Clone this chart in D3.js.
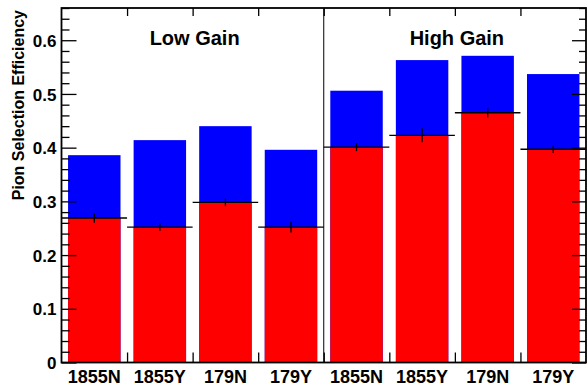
<!DOCTYPE html>
<html>
<head>
<meta charset="utf-8">
<script src="https://cdn.jsdelivr.net/npm/d3@7"></script>
<style>
  html, body { margin: 0; padding: 0; background: #fff; }
  svg { display: block; }
  text { font-family: "Liberation Sans", Arial, Helvetica, sans-serif; font-weight: bold; fill: #000; }
</style>
</head>
<body>
<svg id="chart" width="587" height="387"></svg>
<script>
// Sample / selection per bin
const categories = ["1855N", "1855Y", "179N", "179Y", "1855N", "1855Y", "179N", "179Y"];
// Total efficiency (blue)
const totalEff = [0.386, 0.414, 0.440, 0.396, 0.506, 0.563, 0.571, 0.537];
// Pion selection efficiency (red) and its uncertainty
const pionEff = [0.269, 0.252, 0.298, 0.252, 0.401, 0.423, 0.465, 0.397];
const pionErr = [0.009, 0.007, 0.007, 0.010, 0.0075, 0.013, 0.009, 0.007];
// Gain groups, four bins each
const groupTitles = ["Low Gain", "High Gain"];
const yMajorTicks = [0, 0.1, 0.2, 0.3, 0.4, 0.5, 0.6];
const yTitle = "Pion Selection Efficiency";

const frame = { left: 61.5, right: 586, top: 8, bottom: 362.5 };
const svg = d3.select("#chart");

const idx = d3.range(categories.length);
const x = d3.scaleBand().domain(idx).range([frame.left, frame.right]).paddingInner(0).paddingOuter(0);
const y = d3.scaleLinear().domain([0, 0.66]).range([frame.bottom, frame.top]);
const bw = x.bandwidth();
const barOffset = 0.1, barWidth = 0.8;

// Bars: total (blue) under pion (red)
svg.append("g").selectAll("rect").data(idx).join("rect")
  .attr("x", i => x(i) + barOffset * bw)
  .attr("width", barWidth * bw)
  .attr("y", i => y(totalEff[i]))
  .attr("height", i => y(0) - y(totalEff[i]))
  .attr("fill", "#0000ff");

svg.append("g").selectAll("rect").data(idx).join("rect")
  .attr("x", i => x(i) + barOffset * bw)
  .attr("width", barWidth * bw)
  .attr("y", i => y(pionEff[i]))
  .attr("height", i => y(0) - y(pionEff[i]))
  .attr("fill", "#ff0000");

// Pion histogram level lines and error bars
const errG = svg.append("g").attr("stroke", "#000").attr("stroke-width", 1.3);
errG.selectAll("line.level").data(idx).join("line").attr("class", "level")
  .attr("x1", i => x(i)).attr("x2", i => x(i) + bw)
  .attr("y1", i => y(pionEff[i])).attr("y2", i => y(pionEff[i]));
errG.selectAll("line.err").data(idx).join("line").attr("class", "err")
  .attr("x1", i => x(i) + bw / 2).attr("x2", i => x(i) + bw / 2)
  .attr("y1", i => y(pionEff[i] + pionErr[i])).attr("y2", i => y(pionEff[i] - pionErr[i]));

// Y axes: major and minor ticks pointing inward on both sides
const yMinor = d3.range(0, 0.661, 0.02).filter(v => Math.abs(v * 10 - Math.round(v * 10)) > 1e-6);

function styleAxis(g) {
  g.select(".domain").remove();
  g.selectAll(".tick line").attr("stroke", "#000").attr("stroke-width", 1.3);
}

svg.append("g").attr("transform", `translate(${frame.left},0)`)
  .call(d3.axisLeft(y).tickValues(yMajorTicks).tickSize(-15).tickPadding(5)
    .tickFormat(d => d === 0 ? "0" : d3.format(".1f")(d)))
  .call(styleAxis)
  .call(g => g.selectAll(".tick text").attr("font-size", 17).attr("dy", "0.36em"));

svg.append("g").attr("transform", `translate(${frame.left},0)`)
  .call(d3.axisLeft(y).tickValues(yMinor).tickSize(-8).tickFormat(""))
  .call(styleAxis);

svg.append("g").attr("transform", `translate(${frame.right},0)`)
  .call(d3.axisRight(y).tickValues(yMajorTicks).tickSize(-14).tickFormat(""))
  .call(styleAxis);

svg.append("g").attr("transform", `translate(${frame.right},0)`)
  .call(d3.axisRight(y).tickValues(yMinor).tickSize(-7).tickFormat(""))
  .call(styleAxis);

// X axes: ticks at bin edges, labels at bin centers
const edges = d3.range(1, categories.length).map(i => x(i));
const xEdge = d3.scaleLinear().domain([frame.left, frame.right]).range([frame.left, frame.right]);

svg.append("g").attr("transform", `translate(0,${frame.bottom})`)
  .call(d3.axisBottom(xEdge).tickValues(edges).tickSize(-10).tickFormat(""))
  .call(styleAxis);

svg.append("g").attr("transform", `translate(0,${frame.top})`)
  .call(d3.axisTop(xEdge).tickValues(edges).tickSize(-8).tickFormat(""))
  .call(styleAxis);

svg.append("g").selectAll("text").data(idx).join("text")
  .attr("x", i => x(i) + bw / 2)
  .attr("y", 383)
  .attr("text-anchor", "middle")
  .attr("font-size", 18)
  .text(i => categories[i]);

// Frame and group divider
svg.append("rect")
  .attr("x", frame.left).attr("y", frame.top)
  .attr("width", frame.right - frame.left).attr("height", frame.bottom - frame.top)
  .attr("fill", "none").attr("stroke", "#000").attr("stroke-width", 1.8);

svg.append("line")
  .attr("x1", x(4)).attr("x2", x(4))
  .attr("y1", frame.top).attr("y2", frame.bottom)
  .attr("stroke", "#000").attr("stroke-width", 1);

// Group titles
svg.append("g").selectAll("text").data(groupTitles).join("text")
  .attr("x", (d, g) => (x(g * 4) + x(g * 4 + 3) + bw) / 2 + 2)
  .attr("y", 45)
  .attr("text-anchor", "middle")
  .attr("font-size", 20)
  .text(d => d);

// Y axis title
svg.append("text")
  .attr("transform", "translate(24,10) rotate(-90)")
  .attr("text-anchor", "end")
  .attr("font-size", 16)
  .text(yTitle);
</script>
</body>
</html>
